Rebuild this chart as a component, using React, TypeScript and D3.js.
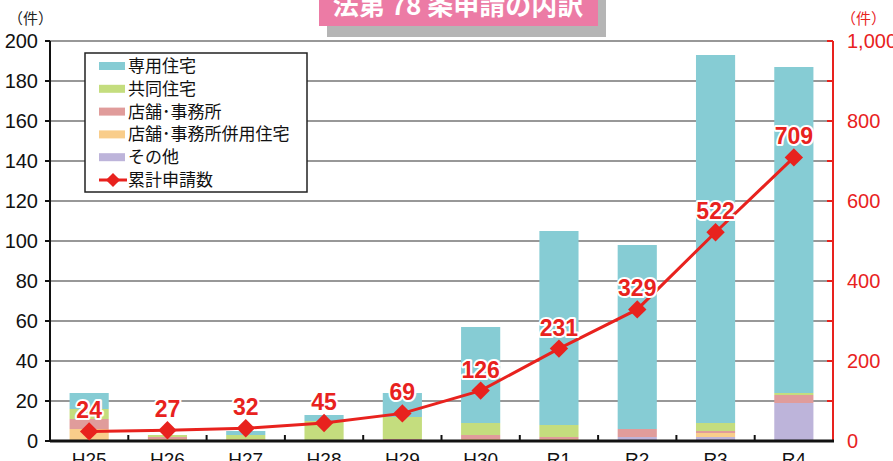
import React from "react";
import * as d3 from "d3";

const categories = ["H25", "H26", "H27", "H28", "H29", "H30", "R1", "R2", "R3", "R4"];
const seriesNames = ["専用住宅", "共同住宅", "店舗･事務所", "店舗･事務所併用住宅", "その他"];
const senyou = [8, 0, 2, 3, 12, 48, 97, 92, 184, 163];
const kyoudou = [5, 1, 2, 10, 11, 6, 6, 0, 4, 1];
const tenpo = [5, 1, 0, 0, 1, 2, 1, 4, 1, 4];
const heiyou = [6, 1, 1, 0, 0, 1, 1, 0, 2, 0];
const sonota = [0, 0, 0, 0, 0, 0, 0, 2, 2, 19];
const cumulative = [24, 27, 32, 45, 69, 126, 231, 329, 522, 709];
const leftTicks = [0, 20, 40, 60, 80, 100, 120, 140, 160, 180, 200];
const rightTicks = [0, 200, 400, 600, 800, 1000];
const lineName = "累計申請数";

const colors = ["#86CCD4", "#C4DD7E", "#E09C9B", "#F9CD8B", "#BDB4DA"];
const red = "#E8221E";

export default function App() {
  const W = 893, H = 461;
  const left = 50, right = 833, top = 41, bottom = 441;
  const x = d3.scaleBand<string>().domain(categories).range([left, right]).paddingInner(0.5).paddingOuter(0.25);
  const y = d3.scaleLinear().domain([0, 200]).range([bottom, top]);
  const y2 = d3.scaleLinear().domain([0, 1000]).range([bottom, top]);
  const fmt = d3.format(",");

  const rows = categories.map((c, i) => ({
    cat: c, s0: senyou[i], s1: kyoudou[i], s2: tenpo[i], s3: heiyou[i], s4: sonota[i],
  }));
  const stack = d3.stack<any>().keys(["s4", "s3", "s2", "s1", "s0"])(rows);
  const keyColor: Record<string, string> = { s0: colors[0], s1: colors[1], s2: colors[2], s3: colors[3], s4: colors[4] };

  const line = d3.line<number>().x((_, i) => (x(categories[i]) as number) + x.bandwidth() / 2).y((d) => y2(d));

  const numFont = "'Liberation Sans', Arial, sans-serif";
  const jpFont = "'Noto Sans CJK JP', sans-serif";

  const legendItems = seriesNames.map((n, i) => ({ n, c: colors[i] }));

  return (
    <svg width={W} height={H} style={{ position: "absolute", left: 0, top: 0, background: "#fff" }}>
      <rect x={327} y={-10} width={279} height={47} fill="#B5B5B5" />
      <rect x={319} y={-10} width={279} height={36} fill="#EC7BA5" />
      <text x={458} y={15} textAnchor="middle" fill="#fff" fontFamily={jpFont} fontWeight="bold" fontSize={26}>
        法第 78 条申請の内訳
      </text>
      <text x={8} y={24} fontFamily={jpFont} fontSize={15} fill="#222">（件）</text>
      <text x={841} y={24} fontFamily={jpFont} fontSize={15} fill={red}>（件）</text>

      {leftTicks.map((t) => (
        <line key={t} x1={left} x2={right} y1={y(t)} y2={y(t)} stroke="#333" strokeWidth={1.2} />
      ))}

      {stack.map((layer) =>
        layer.map((d, i) => (
          <rect key={layer.key + i} x={x(categories[i])} width={x.bandwidth()} y={y(d[1])}
            height={Math.max(0, y(d[0]) - y(d[1]))} fill={keyColor[layer.key]} />
        ))
      )}

      <line x1={left} x2={left} y1={top} y2={bottom} stroke="#111" strokeWidth={2} />
      {leftTicks.map((t) => (
        <g key={t}>
          <line x1={left - 5} x2={left} y1={y(t)} y2={y(t)} stroke="#111" strokeWidth={2} />
          <text x={38} y={y(t) + 7} textAnchor="end" fontFamily={numFont} fontSize={20} fill="#111">{t}</text>
        </g>
      ))}

      <line x1={right} x2={right} y1={top} y2={bottom} stroke={red} strokeWidth={2} />
      {d3.range(0, 1001, 100).map((t) => (
        <line key={t} x1={right - 6} x2={right} y1={y2(t)} y2={y2(t)} stroke={red} strokeWidth={2} />
      ))}
      {rightTicks.map((t) => (
        <text key={t} x={847} y={y2(t) + 7} fontFamily={numFont} fontSize={20} fill={red}>{fmt(t)}</text>
      ))}

      <line x1={left} x2={right + 1} y1={bottom} y2={bottom} stroke="#111" strokeWidth={3} />
      {categories.slice(1).map((c) => {
        const xb = (x(c) as number) - (x.step() - x.bandwidth()) / 2;
        return <line key={c} x1={xb} x2={xb} y1={bottom} y2={bottom - 6} stroke="#111" strokeWidth={2} />;
      })}
      {categories.map((c) => (
        <text key={c} x={(x(c) as number) + x.bandwidth() / 2} y={466} textAnchor="middle"
          fontFamily={numFont} fontSize={19} fill="#111">{c}</text>
      ))}

      <path d={line(cumulative) || ""} fill="none" stroke={red} strokeWidth={3} />
      {cumulative.map((v, i) => {
        const cx = (x(categories[i]) as number) + x.bandwidth() / 2;
        const cy = y2(v);
        return (
          <g key={i}>
            <rect x={cx - 6.5} y={cy - 6.5} width={13} height={13} fill={red} transform={`rotate(45 ${cx} ${cy})`} />
            <text x={cx} y={cy - 13} textAnchor="middle" fontFamily="'Liberation Sans Narrow', 'Liberation Sans', Arial, sans-serif"
              fontWeight="bold" fontSize={23} fill={red} stroke="#fff" strokeWidth={4} paintOrder="stroke"
              strokeLinejoin="round">{v}</text>
          </g>
        );
      })}

      <rect x={85} y={53} width={222} height={139} fill="#fff" stroke="#222" strokeWidth={1.5} />
      {legendItems.map((it, i) => {
        const cy = 66 + i * 22.8;
        return (
          <g key={it.n}>
            <rect x={99} y={cy - 4} width={26} height={8} fill={it.c} />
            <text x={128} y={cy + 6} fontFamily={jpFont} fontSize={17} fill="#111">{it.n}</text>
          </g>
        );
      })}
      {(() => {
        const cy = 66 + 5 * 22.8;
        return (
          <g>
            <line x1={99} x2={127} y1={cy} y2={cy} stroke={red} strokeWidth={3} />
            <rect x={108} y={cy - 5} width={10} height={10} fill={red} transform={`rotate(45 113 ${cy})`} />
            <text x={128} y={cy + 6} fontFamily={jpFont} fontSize={17} fill="#111">{lineName}</text>
          </g>
        );
      })()}
    </svg>
  );
}
